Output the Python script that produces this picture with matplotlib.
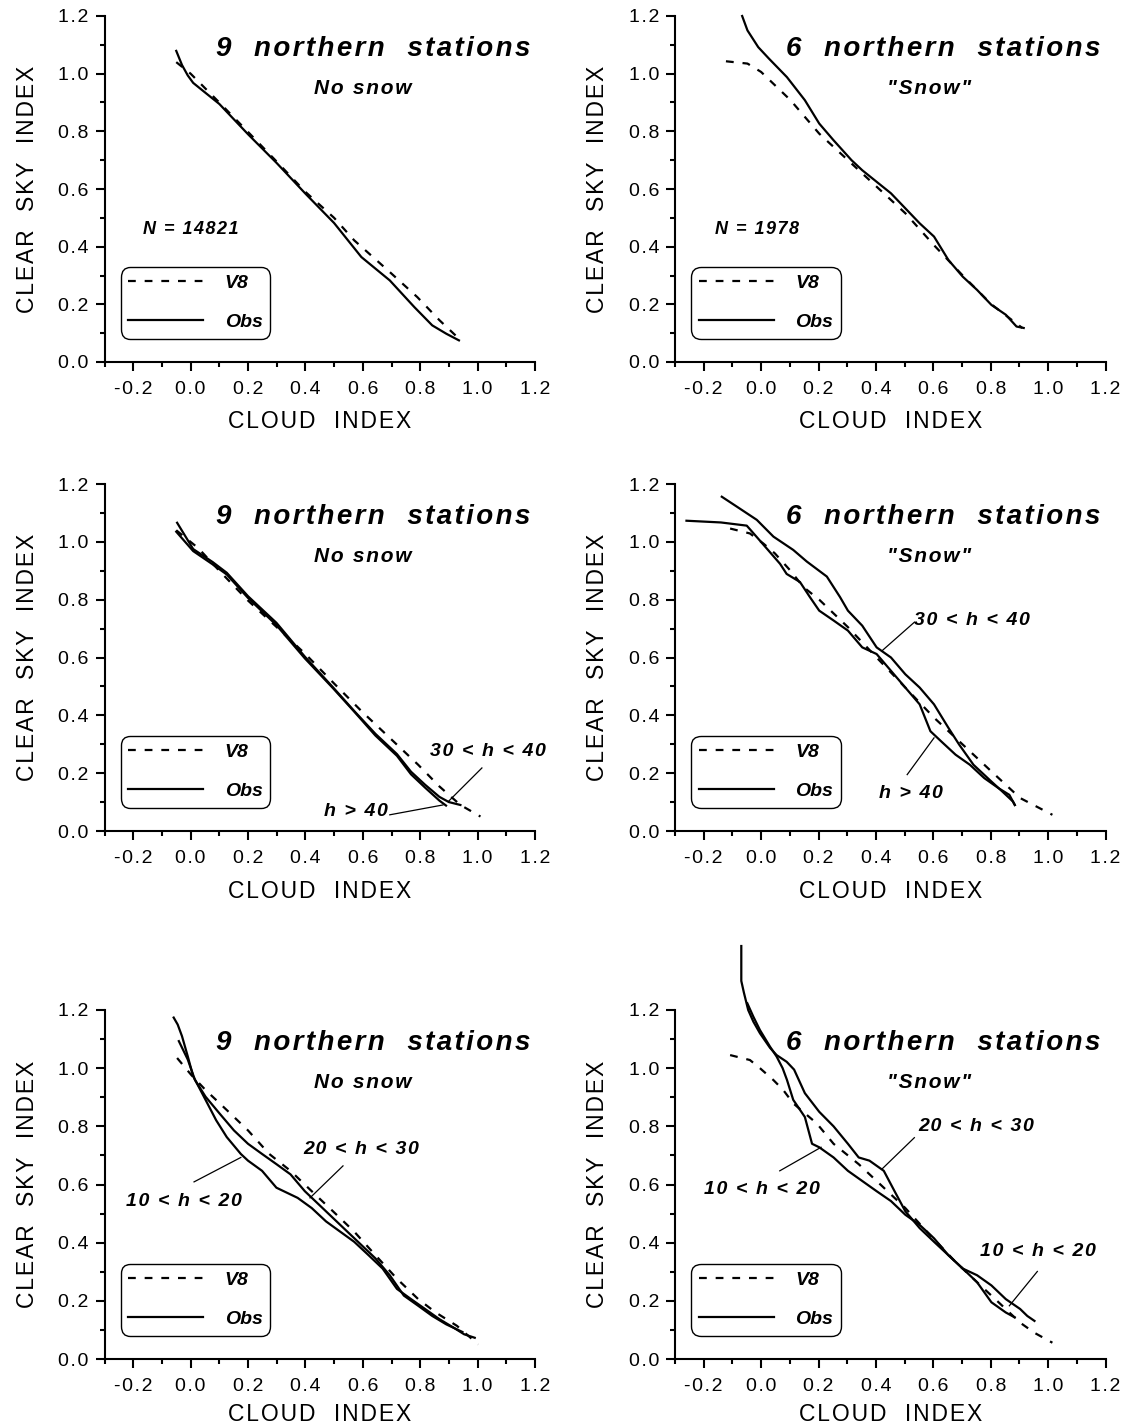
import matplotlib
matplotlib.use('Agg')
import matplotlib.pyplot as plt
from matplotlib.ticker import MultipleLocator, FuncFormatter

plt.rcParams['font.family'] = ['Liberation Sans', 'DejaVu Sans']
plt.rcParams['axes.unicode_minus'] = False

# ---- data (cloud index, clear sky index) ----
# panel 1: 9 northern stations, no snow
p1_obs_x = [-0.05, -0.03, -0.01, 0.009, 0.05, 0.1, 0.2, 0.3, 0.4, 0.5, 0.595, 0.694, 0.78, 0.842, 0.891, 0.935]
p1_obs_y = [1.079, 1.03, 0.994, 0.968, 0.935, 0.895, 0.79, 0.69, 0.584, 0.482, 0.364, 0.283, 0.19, 0.127, 0.098, 0.075]
p1_v8_x = [-0.05, 0.0, 0.1, 0.2, 0.3, 0.4, 0.5, 0.57, 0.694, 0.79, 0.867, 0.935]
p1_v8_y = [1.04, 1.0, 0.9, 0.798, 0.695, 0.59, 0.5, 0.422, 0.312, 0.225, 0.145, 0.081]

# panel 2: 6 northern stations, snow
p2_obs_x = [-0.066, -0.0475, -0.01, 0.0275, 0.09, 0.1525, 0.2025, 0.2525, 0.315, 0.3525, 0.4025,
            0.4525, 0.5025, 0.5525, 0.6025, 0.6525, 0.7025, 0.7525, 0.8025, 0.8525, 0.89, 0.915]
p2_obs_y = [1.2, 1.15, 1.092, 1.052, 0.988, 0.908, 0.827, 0.769, 0.7, 0.665, 0.625,
            0.585, 0.533, 0.481, 0.435, 0.354, 0.296, 0.25, 0.198, 0.164, 0.123, 0.118]
p2_v8_x = [-0.1225, -0.0475, 0.0, 0.1025, 0.2025, 0.3025, 0.4025, 0.5025, 0.6025, 0.7025, 0.8025, 0.91]
p2_v8_y = [1.043, 1.035, 1.006, 0.908, 0.792, 0.7, 0.608, 0.516, 0.405, 0.3, 0.2, 0.118]

# panel 3: no snow, 30<h<40 and h>40
p3_a_x = [-0.047, 0.009, 0.077, 0.126, 0.2, 0.299, 0.398, 0.496, 0.57, 0.644, 0.719, 0.768, 0.817, 0.867, 0.9, 0.94]
p3_a_y = [1.066, 0.975, 0.93, 0.893, 0.812, 0.72, 0.603, 0.497, 0.415, 0.336, 0.266, 0.205, 0.16, 0.118, 0.1, 0.09]
p3_b_x = [-0.05, 0.009, 0.077, 0.126, 0.2, 0.299, 0.398, 0.496, 0.57, 0.644, 0.719, 0.768, 0.817, 0.867, 0.89]
p3_b_y = [1.035, 0.968, 0.922, 0.887, 0.806, 0.712, 0.597, 0.494, 0.413, 0.33, 0.26, 0.196, 0.15, 0.105, 0.088]
p3_v8_x = [-0.05, 0.027, 0.1, 0.2, 0.3, 0.4, 0.5, 0.595, 0.694, 0.793, 0.867, 0.94, 1.01]
p3_v8_y = [1.04, 0.978, 0.9, 0.797, 0.705, 0.612, 0.51, 0.415, 0.322, 0.229, 0.154, 0.09, 0.05]

# panel 4: snow, 30<h<40 (upper) and h>40 (lower)
p4_a_x = [-0.137, -0.085, -0.015, 0.043, 0.112, 0.159, 0.229, 0.275, 0.3025, 0.3525, 0.4025, 0.4525,
          0.5025, 0.5525, 0.6025, 0.6525, 0.69, 0.74, 0.8025, 0.84, 0.8775, 0.884]
p4_a_y = [1.156, 1.122, 1.076, 1.018, 0.972, 0.932, 0.88, 0.809, 0.762, 0.71, 0.635, 0.6,
          0.542, 0.496, 0.438, 0.357, 0.299, 0.229, 0.171, 0.137, 0.102, 0.09]
p4_b_x = [-0.26, -0.14, -0.05, -0.004, 0.031, 0.066, 0.089, 0.1355, 0.17, 0.2025, 0.2525, 0.3025,
          0.3525, 0.4025, 0.4525, 0.5025, 0.5525, 0.59, 0.6275, 0.6775, 0.7275, 0.7775, 0.8275, 0.865, 0.884]
p4_b_y = [1.073, 1.067, 1.056, 1.004, 0.964, 0.924, 0.889, 0.861, 0.809, 0.762, 0.728, 0.693,
          0.635, 0.612, 0.554, 0.496, 0.438, 0.345, 0.31, 0.264, 0.229, 0.183, 0.148, 0.125, 0.09]
p4_v8_x = [-0.108, -0.039, 0.008, 0.048, 0.1025, 0.147, 0.2025, 0.3025, 0.4025, 0.5025, 0.6025,
           0.7025, 0.8025, 0.9025, 1.015]
p4_v8_y = [1.046, 1.029, 0.994, 0.96, 0.9, 0.844, 0.8, 0.705, 0.6, 0.496, 0.392, 0.299, 0.206, 0.114, 0.056]

# panel 5: no snow, 10<h<20 (lower) and 20<h<30 (upper)
p5_a_x = [-0.059, -0.045, -0.03, -0.01, 0.009, 0.04, 0.089, 0.126, 0.175, 0.2, 0.249, 0.299, 0.373, 0.422,
          0.472, 0.521, 0.57, 0.62, 0.669, 0.719, 0.768, 0.817, 0.867, 0.916, 0.953, 0.99]
p5_a_y = [1.174, 1.15, 1.11, 1.041, 0.972, 0.914, 0.821, 0.763, 0.705, 0.682, 0.647, 0.589, 0.554, 0.519,
          0.473, 0.438, 0.403, 0.357, 0.311, 0.241, 0.206, 0.172, 0.137, 0.108, 0.085, 0.073]
p5_b_x = [-0.041, -0.01, 0.015, 0.052, 0.101, 0.151, 0.2, 0.249, 0.299, 0.348, 0.398, 0.447, 0.496,
          0.546, 0.595, 0.644, 0.694, 0.743, 0.793, 0.842, 0.891, 0.947]
p5_b_y = [1.093, 1.03, 0.96, 0.902, 0.844, 0.786, 0.74, 0.705, 0.67, 0.635, 0.577, 0.531, 0.485,
          0.438, 0.392, 0.346, 0.288, 0.218, 0.183, 0.148, 0.119, 0.093]
p5_v8_x = [-0.047, 0.002, 0.052, 0.126, 0.2, 0.274, 0.348, 0.422, 0.496, 0.57, 0.644, 0.719, 0.793,
           0.854, 0.928, 1.002]
p5_v8_y = [1.035, 0.977, 0.925, 0.856, 0.786, 0.705, 0.647, 0.577, 0.508, 0.438, 0.357, 0.276, 0.206,
           0.16, 0.114, 0.05]

# panel 6: snow, 10<h<20 and 20<h<30 (curves cross near 0.55)
p6_a_x = [-0.048, -0.027, -0.004, 0.031, 0.054, 0.075, 0.09, 0.112, 0.1525, 0.1775, 0.2025, 0.2525,
          0.3025, 0.3525, 0.4025, 0.4525, 0.5025, 0.5525, 0.6025, 0.6525, 0.7025, 0.7525, 0.8025,
          0.8525, 0.9025, 0.9275, 0.9525]
p6_a_y = [1.223, 1.177, 1.131, 1.074, 1.04, 1.0, 0.96, 0.891, 0.832, 0.74, 0.728, 0.693,
          0.647, 0.612, 0.577, 0.543, 0.496, 0.461, 0.415, 0.357, 0.311, 0.288, 0.253,
          0.206, 0.172, 0.148, 0.131]
p6_b_x = [-0.069, -0.069, -0.06, -0.045, -0.027, -0.004, 0.031, 0.054, 0.089, 0.115, 0.1525, 0.2025,
          0.2525, 0.3025, 0.34, 0.3775, 0.4275, 0.465, 0.5025, 0.5525, 0.6025, 0.6525, 0.7025,
          0.7525, 0.8025, 0.8525, 0.884]
p6_b_y = [1.42, 1.30, 1.26, 1.20, 1.16, 1.12, 1.07, 1.045, 1.022, 0.995, 0.914, 0.85,
          0.80, 0.74, 0.693, 0.682, 0.647, 0.577, 0.508, 0.45, 0.403, 0.357, 0.311,
          0.264, 0.195, 0.16, 0.143]
p6_v8_x = [-0.108, -0.039, -0.004, 0.043, 0.077, 0.112, 0.194, 0.2525, 0.34, 0.4275, 0.5025, 0.5775,
           0.6775, 0.7525, 0.8275, 0.9025, 0.9525, 1.015]
p6_v8_y = [1.045, 1.028, 1.0, 0.959, 0.925, 0.879, 0.81, 0.74, 0.67, 0.589, 0.519, 0.438,
           0.334, 0.264, 0.195, 0.125, 0.09, 0.056]

titles = ['9  northern  stations', '6  northern  stations'] * 3
subtitles = ['No snow', '"Snow"'] * 3
n_labels = ['N = 14821', 'N = 1978', None, None, None, None]
x_ticks = [-0.2, 0.0, 0.2, 0.4, 0.6, 0.8, 1.0, 1.2]
y_ticks = [0.0, 0.2, 0.4, 0.6, 0.8, 1.0, 1.2]

obs_curves = [
    [(p1_obs_x, p1_obs_y)],
    [(p2_obs_x, p2_obs_y)],
    [(p3_a_x, p3_a_y), (p3_b_x, p3_b_y)],
    [(p4_a_x, p4_a_y), (p4_b_x, p4_b_y)],
    [(p5_a_x, p5_a_y), (p5_b_x, p5_b_y)],
    [(p6_a_x, p6_a_y), (p6_b_x, p6_b_y)],
]
v8_curves = [(p1_v8_x, p1_v8_y), (p2_v8_x, p2_v8_y), (p3_v8_x, p3_v8_y),
             (p4_v8_x, p4_v8_y), (p5_v8_x, p5_v8_y), (p6_v8_x, p6_v8_y)]

# annotations: (text, text pos, line start, line end)
notes = [
    [],
    [],
    [('30 < h < 40', (1.036, 0.276), (1.015, 0.218), (0.898, 0.102)),
     ('h > 40', (0.577, 0.067), (0.694, 0.056), (0.879, 0.09))],
    [('30 < h < 40', (0.734, 0.728), (0.534, 0.722), (0.421, 0.623)),
     ('h > 40', (0.521, 0.131), (0.509, 0.195), (0.6025, 0.322))],
    [('20 < h < 30', (0.595, 0.719), (0.531, 0.664), (0.416, 0.554)),
     ('10 < h < 20', (-0.022, 0.543), (0.012, 0.609), (0.175, 0.693))],
    [('20 < h < 30', (0.749, 0.798), (0.534, 0.761), (0.421, 0.653)),
     ('10 < h < 20', (0.0025, 0.583), (0.065, 0.647), (0.209, 0.728)),
     ('10 < h < 20', (0.965, 0.369), (0.9625, 0.301), (0.865, 0.183))],
]


def hair(s):
    return '\u200a'.join(s)


W, H = 1126, 1427
fig = plt.figure(figsize=(W / 100, H / 100), dpi=100)

cols = [104.5, 675]
rows = [(16, 362), (484, 831), (1010, 1359)]
axw = 430.5

dash = (0, (3.5, 4))
bi = dict(fontweight='bold', fontstyle='italic')

for i in range(6):
    x0 = cols[i % 2]
    top, bot = rows[i // 2]
    ax = fig.add_axes([x0 / W, 1 - bot / H, axw / W, (bot - top) / H])
    ax.set_xlim(-0.3, 1.2)
    ax.set_ylim(0, 1.2)
    for s in ['top', 'right']:
        ax.spines[s].set_visible(False)
    for s in ['left', 'bottom']:
        ax.spines[s].set_linewidth(1.5)
    ax.set_xticks(x_ticks)
    ax.set_yticks(y_ticks)
    ax.xaxis.set_minor_locator(MultipleLocator(0.1))
    ax.yaxis.set_minor_locator(MultipleLocator(0.1))
    fmt = FuncFormatter(lambda v, p: hair('%.1f' % (round(v, 1) + 0.0)))
    ax.xaxis.set_major_formatter(fmt)
    ax.yaxis.set_major_formatter(fmt)
    ax.tick_params(which='major', direction='out', length=6.5, width=1.5, labelsize=14)
    ax.tick_params(which='minor', direction='out', length=3.6, width=1.5)
    ax.tick_params(axis='x', which='major', pad=7)
    ax.tick_params(axis='y', which='major', pad=5)

    ax.set_xlabel(hair('CLOUD  INDEX'), fontsize=16.5)
    ax.set_ylabel(hair('CLEAR  SKY  INDEX'), fontsize=16.5)
    # bottom row sits close to the figure edge
    ax.xaxis.set_label_coords(0.5, -0.14 if i < 4 else -0.125)
    ax.yaxis.set_label_coords(-0.153, 0.5)

    vx, vy = v8_curves[i]
    lv8, = ax.plot(vx, vy, color='black', lw=1.6, ls=dash, clip_on=False)
    lobs = None
    for cx, cy in obs_curves[i]:
        l, = ax.plot(cx, cy, color='black', lw=1.6, clip_on=False)
        if lobs is None:
            lobs = l

    leg = ax.legend([lv8, lobs], ['V8', 'Obs'], loc='lower left',
                    bbox_to_anchor=(0.0376, 0.0665), borderaxespad=0,
                    handlelength=3.85, handletextpad=1.1, labelspacing=1.1,
                    borderpad=0.4, fancybox=True, framealpha=1,
                    prop={'weight': 'bold', 'style': 'italic', 'size': 14})
    fr = leg.get_frame()
    fr.set_edgecolor('black')
    fr.set_linewidth(1.0)
    fr.set_boxstyle('round', pad=0, rounding_size=0.5)

    ax.text(0.635, 1.085, hair(titles[i]), fontsize=20, ha='center', va='center', **bi)
    sx = 0.601 if i % 2 == 0 else 0.584
    ax.text(sx, 0.95, hair(subtitles[i]), fontsize=15, ha='center', va='center', **bi)
    if n_labels[i]:
        nx = 0.002 if i == 0 else -0.016
        ax.text(nx, 0.458, hair(n_labels[i]), fontsize=13, ha='center', va='center', **bi)

    for txt, tp, a, b in notes[i]:
        ax.text(tp[0], tp[1], hair(txt), fontsize=14, ha='center', va='center', **bi)
        ax.plot([a[0], b[0]], [a[1], b[1]], color='black', lw=0.9)

fig.savefig('out.png', dpi=100)
